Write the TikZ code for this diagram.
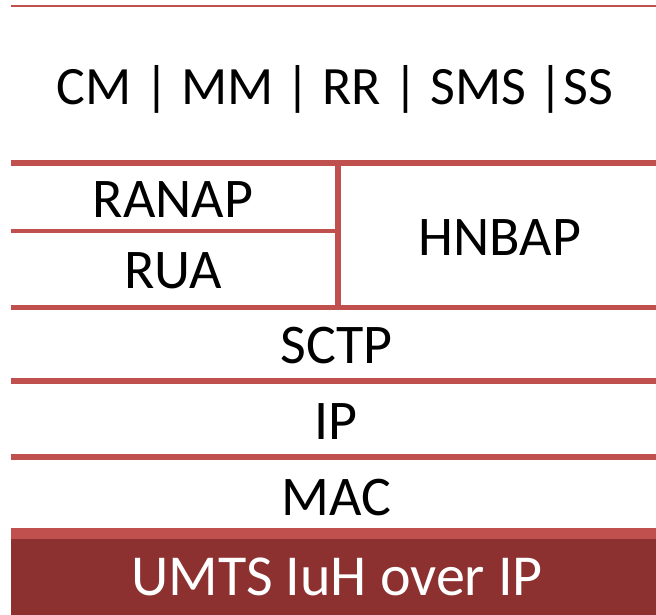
\documentclass[tikz,border=0pt]{standalone}
\usepackage{fontspec}
\setmainfont{Carlito}
\definecolor{linered}{HTML}{C0504D}
\definecolor{darkred}{HTML}{8C3130}
\begin{document}
\begin{tikzpicture}[x=1pt,y=-1pt,
  sep/.style={draw=linered,line width=5.5pt},
  thinsep/.style={draw=linered,line width=2.5pt},
  lbl/.style={anchor=base,inner sep=0pt,font=\fontsize{56}{60}\selectfont,text=black}]
\useasboundingbox (0,0) rectangle (656,615);
% bottom bar
\fill[darkred] (11,533) rectangle (656,615);
\fill[linered] (11,528) rectangle (656,539);
% lines
\draw[thinsep] (11,6) -- (656,6);
\draw[sep] (11,163) -- (656,163);
\draw[draw=linered,line width=4.5pt] (11,231) -- (338,231);
\draw[sep] (338,163) -- (338,307.5);
\draw[sep] (11,307.5) -- (656,307.5);
\draw[sep] (11,381) -- (656,381);
\draw[sep] (11,457) -- (656,457);
% labels
\node[lbl,font=\fontsize{54}{58}\selectfont] (top) at (335,105) {CM | MM | RR | SMS |SS};
\node[lbl] (ranap) at (173,217) {RANAP};
\node[lbl] (rua) at (173,288) {RUA};
\node[lbl] (hnbap) at (500,255) {HNBAP};
\node[lbl] (sctp) at (336.5,363) {SCTP};
\node[lbl] (ip) at (336,439) {IP};
\node[lbl] (mac) at (336,515) {MAC};
\node[lbl,text=white,font=\fontsize{58}{62}\selectfont] (umts) at (337,595) {UMTS IuH over IP};
\end{tikzpicture}
\end{document}
